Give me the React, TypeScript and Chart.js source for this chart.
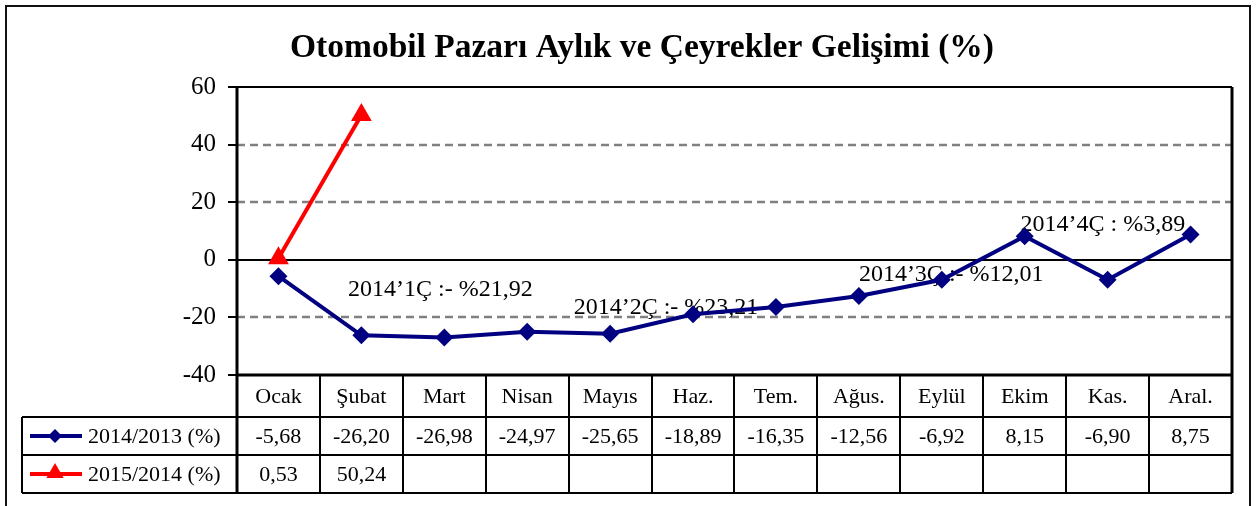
import React, { useEffect, useRef } from 'react';
import { Chart, registerables } from 'chart.js';

Chart.register(...registerables);

const TITLE = 'Otomobil Pazarı Aylık ve Çeyrekler Gelişimi (%)';
const MONTHS = ['Ocak', 'Şubat', 'Mart', 'Nisan', 'Mayıs', 'Haz.', 'Tem.', 'Ağus.', 'Eylül', 'Ekim', 'Kas.', 'Aral.'];
const SERIES_NAMES = ['2014/2013 (%)', '2015/2014 (%)'];
const VALUES_2014: (number | null)[] = [-5.68, -26.2, -26.98, -24.97, -25.65, -18.89, -16.35, -12.56, -6.92, 8.15, -6.9, 8.75];
const VALUES_2015: (number | null)[] = [0.53, 50.24, null, null, null, null, null, null, null, null, null, null];
const Y_MIN = -40;
const Y_MAX = 60;
const Y_STEP = 20;
const QUARTER_TEXTS = ['2014’1Ç :- %21,92', '2014’2Ç :- %23,21', '2014’3Ç :- %12,01', '2014’4Ç : %3,89'];
// anchor of each quarter note: [category index, value]
const QUARTER_ANCHORS: [number, number][] = [[0.84, -10.4], [3.56, -16.7], [7.0, -5.2], [8.95, 12.2]];

const FONT = '"Liberation Serif", "Times New Roman", serif';
const NAVY = '#000080';
const RED = '#FF0000';

const fmt = (v: number | null) => (v === null ? '' : v.toFixed(2).replace('.', ','));

function diamond(ctx: CanvasRenderingContext2D, x: number, y: number, r: number, color: string) {
  ctx.beginPath();
  ctx.moveTo(x, y - r);
  ctx.lineTo(x + r, y);
  ctx.lineTo(x, y + r);
  ctx.lineTo(x - r, y);
  ctx.closePath();
  ctx.fillStyle = color;
  ctx.fill();
}

function triangle(ctx: CanvasRenderingContext2D, x: number, y: number, r: number, color: string) {
  ctx.beginPath();
  ctx.moveTo(x, y - r);
  ctx.lineTo(x + r * 0.866, y + r * 0.5);
  ctx.lineTo(x - r * 0.866, y + r * 0.5);
  ctx.closePath();
  ctx.fillStyle = color;
  ctx.fill();
}

const framePlugin = {
  id: 'framePlugin',
  beforeDraw(chart: any) {
    const { ctx, width, height } = chart;
    ctx.save();
    ctx.fillStyle = '#fff';
    ctx.fillRect(0, 0, width, height);
    ctx.strokeStyle = '#111';
    ctx.lineWidth = 2;
    ctx.strokeRect(6, 6, 1244, 540);
    ctx.fillStyle = '#000';
    ctx.font = `bold 33.5px ${FONT}`;
    ctx.textAlign = 'center';
    ctx.textBaseline = 'middle';
    ctx.fillText(TITLE, 642, 48);
    ctx.restore();
  },
  beforeDatasetsDraw(chart: any) {
    const { ctx, chartArea } = chart;
    const xs = chart.scales.x;
    const ys = chart.scales.y;
    const { left, right, top, bottom } = chartArea;
    ctx.save();
    // grid lines
    for (let v = Y_MIN; v <= Y_MAX; v += Y_STEP) {
      const y = Math.round(ys.getPixelForValue(v));
      if (v === Y_MIN || v === Y_MAX) continue;
      ctx.beginPath();
      if (v === 0) {
        ctx.setLineDash([]);
        ctx.strokeStyle = '#000';
        ctx.lineWidth = 2;
      } else {
        ctx.setLineDash([8, 5]);
        ctx.strokeStyle = '#808080';
        ctx.lineWidth = 2.5;
      }
      ctx.moveTo(left, y);
      ctx.lineTo(right, y);
      ctx.stroke();
    }
    ctx.setLineDash([]);
    // tick marks
    ctx.strokeStyle = '#000';
    ctx.lineWidth = 2;
    for (let v = Y_MIN; v <= Y_MAX; v += Y_STEP) {
      const y = Math.round(ys.getPixelForValue(v));
      ctx.beginPath();
      ctx.moveTo(left - 9, y);
      ctx.lineTo(left, y);
      ctx.stroke();
    }
    // table geometry
    const headerH = 42;
    const rowH = 38;
    const tableLeft = 22;
    const row1Top = bottom + headerH;
    const row2Top = row1Top + rowH;
    const tableBottom = row2Top + rowH;
    const n = MONTHS.length;
    const colW = (right - left) / n;

    ctx.strokeStyle = '#000';
    ctx.lineWidth = 2;
    [row1Top, row2Top, tableBottom].forEach((y) => {
      ctx.beginPath();
      ctx.moveTo(tableLeft, y);
      ctx.lineTo(right, y);
      ctx.stroke();
    });
    ctx.beginPath();
    ctx.moveTo(tableLeft, row1Top);
    ctx.lineTo(tableLeft, tableBottom);
    ctx.stroke();
    for (let i = 1; i < n; i++) {
      const x = Math.round(xs.getPixelForValue(i) - colW / 2);
      ctx.beginPath();
      ctx.moveTo(x, bottom);
      ctx.lineTo(x, tableBottom);
      ctx.stroke();
    }
    // plot frame
    ctx.lineWidth = 3;
    ctx.beginPath();
    ctx.moveTo(left, top);
    ctx.lineTo(left, tableBottom);
    ctx.moveTo(right, top);
    ctx.lineTo(right, tableBottom);
    ctx.moveTo(left, bottom);
    ctx.lineTo(right, bottom);
    ctx.stroke();
    ctx.lineWidth = 2;
    ctx.beginPath();
    ctx.moveTo(left - 9, top);
    ctx.lineTo(right, top);
    ctx.stroke();

    // table texts
    ctx.fillStyle = '#000';
    ctx.font = `22px ${FONT}`;
    ctx.textAlign = 'center';
    ctx.textBaseline = 'middle';
    MONTHS.forEach((m, i) => {
      const x = xs.getPixelForValue(i);
      ctx.fillText(m, x, bottom + headerH / 2 + 1);
      ctx.fillText(fmt(VALUES_2014[i]), x, row1Top + rowH / 2 + 1);
      ctx.fillText(fmt(VALUES_2015[i]), x, row2Top + rowH / 2 + 1);
    });
    // legend keys
    const rows = [
      { y: row1Top + rowH / 2, color: NAVY, marker: 'd', name: SERIES_NAMES[0] },
      { y: row2Top + rowH / 2, color: RED, marker: 't', name: SERIES_NAMES[1] },
    ];
    rows.forEach((r) => {
      ctx.strokeStyle = r.color;
      ctx.lineWidth = 4;
      ctx.beginPath();
      ctx.moveTo(30, r.y);
      ctx.lineTo(82, r.y);
      ctx.stroke();
      if (r.marker === 'd') diamond(ctx, 55, r.y, 7, r.color);
      else triangle(ctx, 55, r.y - 1, 10, r.color);
      ctx.fillStyle = '#000';
      ctx.textAlign = 'left';
      ctx.fillText(r.name, 88, r.y + 1);
    });

    // quarter notes
    ctx.font = `24px ${FONT}`;
    ctx.textAlign = 'left';
    ctx.textBaseline = 'middle';
    QUARTER_TEXTS.forEach((t, i) => {
      const [ci, v] = QUARTER_ANCHORS[i];
      ctx.fillText(t, xs.getPixelForValue(ci), ys.getPixelForValue(v));
    });
    ctx.restore();
  },
};

export default function App() {
  const ref = useRef<HTMLCanvasElement | null>(null);
  useEffect(() => {
    if (!ref.current) return;
    const chart = new Chart(ref.current, {
      type: 'line',
      data: {
        labels: MONTHS,
        datasets: [
          {
            label: SERIES_NAMES[0],
            data: VALUES_2014,
            borderColor: NAVY,
            backgroundColor: NAVY,
            borderWidth: 4,
            pointStyle: 'rectRot',
            pointRadius: 9,
            pointBorderWidth: 0,
            pointBackgroundColor: NAVY,
            tension: 0,
          },
          {
            label: SERIES_NAMES[1],
            data: VALUES_2015,
            borderColor: RED,
            backgroundColor: RED,
            borderWidth: 4,
            pointStyle: 'triangle',
            pointRadius: 12,
            pointBorderWidth: 0,
            pointBackgroundColor: RED,
            tension: 0,
          },
        ],
      },
      options: {
        animation: false,
        responsive: false,
        devicePixelRatio: 1,
        layout: { padding: { left: 0, top: 87, right: 24, bottom: 131 } },
        plugins: { legend: { display: false }, tooltip: { enabled: false }, title: { display: false } },
        scales: {
          x: { type: 'category', offset: true, display: false },
          y: {
            min: Y_MIN,
            max: Y_MAX,
            ticks: { stepSize: Y_STEP, color: '#000', font: { family: FONT, size: 25 }, padding: 13 },
            grid: { display: false },
            border: { display: false },
            afterFit: (scale: any) => {
              scale.width = 237;
            },
          },
        },
      },
      plugins: [framePlugin],
    });
    return () => chart.destroy();
  }, []);
  return (
    <div style={{ position: 'absolute', left: 0, top: 0, width: 1256, height: 506, background: '#fff' }}>
      <canvas ref={ref} width={1256} height={506} style={{ display: 'block' }} />
    </div>
  );
}
